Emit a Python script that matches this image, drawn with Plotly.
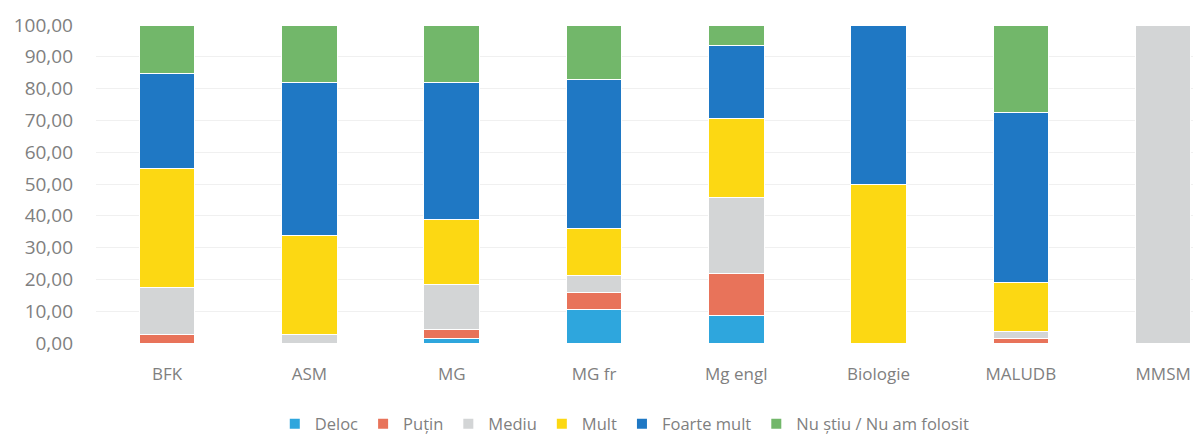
import plotly.graph_objects as go

categories = ["BFK", "ASM", "MG", "MG fr", "Mg engl", "Biologie", "MALUDB", "MMSM"]
series_names = ["Deloc", "Puțin", "Mediu", "Mult", "Foarte mult", "Nu știu / Nu am folosit"]

deloc       = [0.0, 0.0, 1.3, 10.5, 8.7, 0.0, 0.0, 0.0]
putin       = [2.6, 0.0, 3.0, 5.3, 13.0, 0.0, 1.5, 0.0]
mediu       = [15.0, 2.8, 14.0, 5.3, 23.9, 0.0, 2.0, 100.0]
mult        = [37.2, 31.0, 20.5, 14.9, 25.0, 50.0, 15.5, 0.0]
foarte_mult = [29.8, 48.2, 43.2, 47.0, 22.8, 50.0, 53.5, 0.0]
nu_stiu     = [15.4, 18.0, 18.0, 17.0, 6.6, 0.0, 27.5, 0.0]

values = [deloc, putin, mediu, mult, foarte_mult, nu_stiu]
colors = ["#2EA6DD", "#E8735A", "#D3D5D6", "#FCD813", "#1F78C4", "#72B76A"]

fig = go.Figure()
for name, vals, col in zip(series_names, values, colors):
    fig.add_trace(go.Bar(
        x=categories, y=vals, name=name,
        marker=dict(color=col, line=dict(color="white", width=1)),
        width=0.39,
    ))

# The page body has an 8px margin, so the figure is sized to fit inside the window.
font_family = "Open Sans, Lato, sans-serif"
fig.update_layout(
    barmode="stack",
    width=1193, height=428,
    margin=dict(l=88, r=0, t=17, b=93, autoexpand=False),
    paper_bgcolor="white", plot_bgcolor="white",
    separators=",.",
    font=dict(family=font_family, color="#7F7F7F"),
    showlegend=True,
    legend=dict(orientation="h", xref="container", yref="container",
                x=0.517, xanchor="center", y=0.028, yanchor="middle",
                font=dict(size=16.5, color="#7F7F7F"), traceorder="normal",
                itemwidth=30, itemsizing="constant"),
    xaxis=dict(range=[-0.5, 7.266], showgrid=False, showline=False, ticks="",
               automargin=False,
               tickfont=dict(size=17, color="#7F7F7F"), ticklabelstandoff=19),
    yaxis=dict(range=[0, 100], tickvals=[0, 10, 20, 30, 40, 50, 60, 70, 80, 90, 100],
               tickformat=".2f", showgrid=True, gridcolor="#F0F0F0", gridwidth=1,
               zeroline=False, showline=False, ticks="", automargin=False,
               ticklabelstandoff=22,
               tickfont=dict(size=19, color="#7F7F7F")),
)

fig.write_html("out.html")
